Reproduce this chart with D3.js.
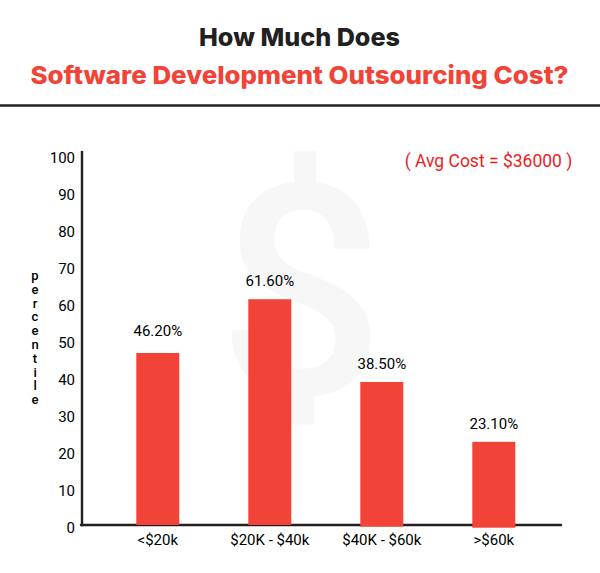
<!DOCTYPE html>
<html><head><meta charset="utf-8">
<script src="https://cdnjs.cloudflare.com/ajax/libs/d3/7.8.5/d3.min.js"></script>
<style>html,body{margin:0;padding:0;background:#fff}svg{display:block}</style>
</head><body><div id="c"></div>
<script>
const categories = ["<$20k", "$20K - $40k", "$40K - $60k", ">$60k"];
const barValues = [46.55, 61.1, 38.7, 22.5];
const barLabels = ["46.20%", "61.60%", "38.50%", "23.10%"];
const yTicks = [0,10,20,30,40,50,60,70,80,90,100];
const titleLine1 = "How Much Does";
const titleLine2 = "Software Development Outsourcing Cost?";
const note = "( Avg Cost = $36000 )";
const yLabel = "percentile";

const W=600,H=573, ink="#231f20", red="#f24338";
const svg=d3.select("#c").append("svg").attr("width",W).attr("height",H);
const font="Roboto, sans-serif", tfont="Inter, 'Open Sans', sans-serif";

const x=d3.scaleBand().domain(categories).range([101.8,549.8]).paddingInner(.616).paddingOuter(.308);
const y=d3.scaleLinear().domain([0,100]).range([525,155.5]);

svg.append("defs").append("clipPath").attr("id","wm").append("rect").attr("x",200).attr("y",150).attr("width",200).attr("height",290);
svg.append("text").text("$").attr("x",301).attr("y",394).attr("text-anchor","middle").attr("clip-path","url(#wm)")
  .attr("font-family",font).attr("font-weight",500).attr("font-size",295).attr("fill","#f7f7f7");

svg.append("text").text(titleLine1).attr("x",299.5).attr("y",46).attr("text-anchor","middle")
  .attr("font-family",tfont).attr("font-weight",800).attr("font-size",24.5).attr("fill",ink)
  .attr("textLength",201).attr("lengthAdjust","spacingAndGlyphs");
svg.append("text").text(titleLine2).attr("x",299.5).attr("y",84).attr("text-anchor","middle")
  .attr("font-family",tfont).attr("font-weight",800).attr("font-size",24.5).attr("fill",red)
  .attr("textLength",538).attr("lengthAdjust","spacingAndGlyphs");
svg.append("line").attr("x1",0).attr("x2",W).attr("y1",105.5).attr("y2",105.5).attr("stroke",ink).attr("stroke-width",2.6);

svg.append("text").text(note).attr("x",488.5).attr("y",167).attr("text-anchor","middle")
  .attr("font-family",font).attr("font-size",17.5).attr("fill","#ed1c24");

svg.selectAll("text.val").data(categories).join("text").attr("class","val")
  .attr("x",d=>x(d)+x.bandwidth()/2).attr("y",(d,i)=>y(barValues[i])-(i==0?16.5:13))
  .attr("text-anchor","middle").attr("font-family",font).attr("font-size",15).attr("fill","#000")
  .text((d,i)=>barLabels[i]);

const gy=svg.append("g").attr("transform","translate(81,0)")
  .call(d3.axisLeft(y).tickValues(yTicks).tickSize(0).tickPadding(6));
gy.select(".domain").remove();
gy.selectAll("text").attr("font-family",font).attr("font-size",15).attr("fill","#000").attr("dy","0.47em");

const gx=svg.append("g").attr("transform","translate(0,525)")
  .call(d3.axisBottom(x).tickSize(0).tickPadding(9));
gx.select(".domain").remove();
gx.selectAll("text").attr("font-family",font).attr("font-size",15).attr("fill","#000");

svg.append("line").attr("x1",82).attr("x2",82).attr("y1",151).attr("y2",526.3).attr("stroke",ink).attr("stroke-width",2.4);
svg.append("line").attr("x1",81).attr("x2",561).attr("y1",525).attr("y2",525).attr("stroke",ink).attr("stroke-width",2.4).attr("stroke-linecap","round");

svg.selectAll("rect.bar").data(categories).join("rect").attr("class","bar")
  .attr("x",d=>x(d)).attr("width",x.bandwidth())
  .attr("y",(d,i)=>y(barValues[i])).attr("height",(d,i)=>y(0)-y(barValues[i])+(i==3?2.7:i==2?1.7:0))
  .attr("fill",red);

svg.append("text").text(yLabel).attr("x",35).attr("y",268)
  .style("writing-mode","vertical-rl").style("text-orientation","upright").style("letter-spacing","-1.2px")
  .attr("font-family",font).attr("font-size",13).attr("font-weight",500).attr("fill","#000");
</script></body></html>
